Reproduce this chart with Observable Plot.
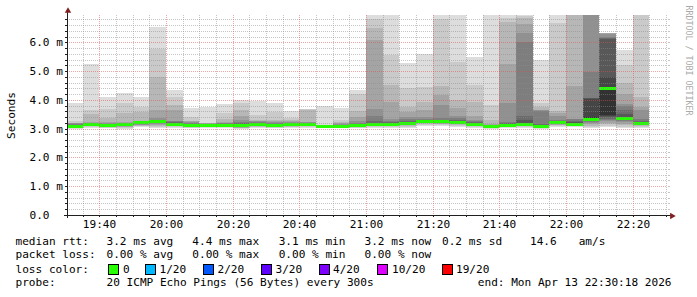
<!DOCTYPE html>
<html><head><meta charset="utf-8">
<script src="https://cdn.jsdelivr.net/npm/d3@7"></script>
<script src="https://cdn.jsdelivr.net/npm/@observablehq/plot@0.6"></script>
<style>
body{margin:0;background:#fff;}
#chart{position:relative;width:697px;height:297px;overflow:hidden;background:#fff;}
#chart svg{position:absolute;left:0;}
</style></head><body><div id="chart"></div>
<script>
// ---------- data ----------
const day = "2026-04-13";
const windowStart = "19:30:18";
const windowEnd = "22:30:18";
const slotStarts = ["19:30","19:35","19:40","19:45","19:50","19:55","20:00","20:05","20:10","20:15",
  "20:20","20:25","20:30","20:35","20:40","20:45","20:50","20:55","21:00","21:05",
  "21:10","21:15","21:20","21:25","21:30","21:35","21:40","21:45","21:50","21:55",
  "22:00","22:05","22:10","22:15","22:20"];
// 20 sorted ping round-trip times per 5-minute slot (ms)
const pings = [
  [3.00,3.03,3.05,3.06,3.07,3.08,3.08,3.09,3.09,3.09,3.10,3.11,3.12,3.14,3.16,3.18,3.20,3.21,3.27,3.90],
  [3.03,3.06,3.08,3.10,3.11,3.12,3.13,3.14,3.14,3.15,3.15,3.16,3.17,3.18,3.19,3.20,3.24,3.51,3.65,5.25],
  [3.02,3.04,3.06,3.07,3.08,3.09,3.09,3.10,3.10,3.10,3.11,3.12,3.13,3.15,3.17,3.19,3.22,3.36,3.68,4.10],
  [2.98,3.02,3.05,3.07,3.09,3.10,3.11,3.12,3.12,3.13,3.13,3.14,3.15,3.16,3.18,3.20,3.24,3.55,3.90,4.24],
  [3.05,3.08,3.10,3.12,3.14,3.16,3.17,3.18,3.19,3.20,3.20,3.21,3.22,3.23,3.25,3.26,3.28,3.59,3.74,4.10],
  [3.01,3.06,3.10,3.13,3.16,3.19,3.22,3.24,3.25,3.26,3.26,3.27,3.28,3.29,3.30,3.36,3.65,4.78,5.76,6.54],
  [3.03,3.06,3.09,3.11,3.12,3.13,3.14,3.15,3.16,3.16,3.17,3.18,3.20,3.22,3.25,3.28,3.65,3.81,4.09,4.34],
  [3.02,3.04,3.06,3.07,3.08,3.09,3.09,3.10,3.10,3.10,3.11,3.12,3.14,3.16,3.18,3.22,3.26,3.28,3.39,3.73],
  [3.03,3.05,3.06,3.07,3.08,3.09,3.09,3.10,3.10,3.10,3.11,3.12,3.13,3.14,3.16,3.17,3.18,3.20,3.21,3.76],
  [3.03,3.05,3.07,3.08,3.09,3.10,3.11,3.11,3.12,3.12,3.13,3.14,3.15,3.16,3.18,3.20,3.24,3.32,3.55,3.86],
  [3.00,3.01,3.02,3.04,3.06,3.08,3.09,3.10,3.10,3.11,3.12,3.14,3.17,3.20,3.24,3.30,3.44,3.65,3.88,4.00],
  [3.03,3.05,3.07,3.09,3.10,3.11,3.12,3.12,3.13,3.13,3.14,3.15,3.17,3.19,3.22,3.25,3.28,3.30,3.47,3.97],
  [3.02,3.04,3.06,3.07,3.08,3.09,3.09,3.10,3.10,3.10,3.11,3.12,3.13,3.15,3.18,3.22,3.27,3.30,3.59,3.90],
  [3.03,3.05,3.07,3.08,3.10,3.11,3.12,3.12,3.13,3.13,3.14,3.15,3.16,3.18,3.20,3.23,3.26,3.30,3.36,3.63],
  [3.04,3.07,3.09,3.11,3.12,3.13,3.14,3.14,3.15,3.15,3.16,3.17,3.18,3.19,3.20,3.22,3.24,3.66,3.67,3.68],
  [3.02,3.04,3.05,3.06,3.06,3.07,3.07,3.07,3.07,3.07,3.08,3.09,3.09,3.10,3.10,3.11,3.12,3.12,3.13,3.79],
  [3.02,3.04,3.05,3.06,3.07,3.07,3.08,3.08,3.08,3.08,3.09,3.10,3.11,3.12,3.14,3.16,3.18,3.22,3.30,3.73],
  [3.01,3.03,3.05,3.07,3.08,3.09,3.09,3.10,3.10,3.10,3.11,3.12,3.14,3.17,3.20,3.28,3.39,3.62,4.20,4.34],
  [3.03,3.06,3.08,3.10,3.11,3.12,3.13,3.14,3.15,3.15,3.16,3.18,3.20,3.27,3.45,3.68,6.08,6.50,6.80,7.50],
  [3.04,3.07,3.09,3.11,3.12,3.13,3.14,3.15,3.16,3.16,3.17,3.19,3.21,3.24,3.28,3.33,3.94,4.52,5.56,7.50],
  [3.04,3.07,3.10,3.12,3.13,3.14,3.15,3.16,3.17,3.17,3.18,3.20,3.23,3.27,3.33,3.39,3.59,3.76,4.40,5.28],
  [3.08,3.12,3.15,3.18,3.20,3.22,3.23,3.24,3.25,3.26,3.26,3.27,3.29,3.31,3.33,3.40,3.64,3.94,4.45,5.59],
  [3.08,3.12,3.15,3.17,3.19,3.21,3.22,3.23,3.24,3.25,3.25,3.26,3.28,3.31,3.38,3.82,4.17,4.47,6.80,7.50],
  [3.06,3.10,3.13,3.15,3.17,3.18,3.19,3.20,3.21,3.22,3.22,3.24,3.27,3.31,3.36,3.44,3.71,4.00,5.33,7.50],
  [3.04,3.07,3.09,3.11,3.12,3.13,3.14,3.15,3.16,3.16,3.17,3.18,3.20,3.23,3.26,3.30,3.44,3.94,4.52,5.50],
  [2.99,3.01,3.02,3.03,3.04,3.05,3.05,3.06,3.06,3.06,3.07,3.08,3.09,3.10,3.12,3.13,3.15,3.30,3.82,7.50],
  [3.02,3.05,3.07,3.08,3.09,3.09,3.10,3.10,3.10,3.10,3.11,3.13,3.16,3.20,3.24,3.89,5.26,6.70,6.83,7.50],
  [3.03,3.06,3.08,3.10,3.11,3.12,3.13,3.13,3.14,3.14,3.16,3.20,3.30,3.44,6.00,6.31,6.63,6.85,6.90,7.50],
  [3.00,3.02,3.03,3.04,3.05,3.06,3.06,3.07,3.07,3.07,3.08,3.10,3.13,3.17,3.63,3.64,3.65,3.76,3.88,5.39],
  [3.06,3.09,3.12,3.14,3.16,3.17,3.18,3.19,3.19,3.20,3.21,3.22,3.24,3.27,3.30,3.45,3.55,3.61,6.66,7.50],
  [3.05,3.08,3.10,3.12,3.13,3.14,3.15,3.15,3.16,3.16,3.17,3.19,3.22,3.27,3.33,3.34,4.47,7.20,7.40,7.50],
  [3.01,3.05,3.10,3.15,3.20,3.24,3.27,3.29,3.30,3.31,3.40,4.04,4.05,4.06,4.98,7.20,7.30,7.40,7.45,7.50],
  [3.05,3.10,3.15,3.20,3.25,3.30,3.35,3.40,3.45,3.47,4.44,4.78,6.10,6.15,6.20,6.30,6.31,6.31,6.32,6.32],
  [3.03,3.07,3.12,3.17,3.22,3.27,3.30,3.33,3.35,3.36,3.37,3.40,3.50,3.65,3.80,3.86,4.20,4.60,5.21,5.73],
  [3.04,3.07,3.09,3.11,3.12,3.13,3.14,3.15,3.16,3.17,3.18,3.20,3.23,3.28,3.33,3.65,3.76,4.11,7.40,7.50]
];
const medians = [3.09,3.15,3.10,3.13,3.20,3.26,3.16,3.10,3.10,3.12,
  3.11,3.13,3.10,3.13,3.15,3.07,3.08,3.10,3.15,3.16,
  3.17,3.26,3.25,3.22,3.16,3.06,3.10,3.14,3.07,3.20,
  3.16,3.33,4.40,3.36,3.17];
const yMax = 6.949;
const yLabelTicks = [0,1,2,3,4,5,6];
const xLabelTimes = ["19:40","20:00","20:20","20:40","21:00","21:20","21:40","22:00","22:20"];
const yTitle = "Seconds";
const watermark = "RRDTOOL / TOBI OETIKER";
const rowTitles = ["median rtt:","packet loss:","loss color:","probe:"];
const rttStats = ["3.2 ms avg","4.4 ms max","3.1 ms min","3.2 ms now","0.2 ms sd","14.6","am/s"];
const lossStats = ["0.00 % avg","0.00 % max","0.00 % min","0.00 % now"];
const lossLabels = ["0","1/20","2/20","3/20","4/20","10/20","19/20"];
const lossColors = ["#26ff00","#00b8ff","#0059ff","#5e00ff","#7e00ff","#dd00ff","#ff0000"];
const probeText = "20 ICMP Echo Pings (56 Bytes) every 300s";
const endText = "end: Mon Apr 13 22:30:18 2026";

// ---------- layout / style ----------
const FONT = "DejaVu Sans Mono";
const gridMinor = "rgba(140,140,140,0.5)";
const gridMajor = "rgba(222,79,79,0.5)";
const axisCol = "#1f1f1f";
const arrowCol = "#801f1f";
const T = s => new Date(`${day}T${s.length === 5 ? s + ":00" : s}Z`);
const STEP = 300000;
const shade = i => { const c = Math.floor(190 / 10 * (10 - (i + 1))) + 50; return d3.rgb(c, c, c).formatHex(); };

const smoke = [];
slotStarts.forEach((s, j) => {
  const t0 = T(s), t1 = new Date(+t0 + STEP), p = pings[j];
  for (let i = 0; i < 10; i++) smoke.push({t0, t1, lo: p[i], hi: p[19 - i], fill: shade(i)});
});
const med = slotStarts.map((s, j) => ({t0: T(s), t1: new Date(+T(s) + STEP), m: medians[j]}));
const halfPx = 1.5 * yMax / 200;

const x0 = T(windowStart), x1 = T(windowEnd);
const xMajor = xLabelTimes.map(T);
const xAllTicks = [];
for (let t = +T("19:35"); t <= +x1; t += STEP) xAllTicks.push(new Date(t));
const xMinor = xAllTicks.filter(t => !xMajor.some(d => +d === +t));
const yAll = d3.range(1, 35).map(k => k / 5).filter(v => v < yMax);
const yMinor = yAll.filter(v => Math.abs(v - Math.round(v)) > 1e-6);
const yMajor = yLabelTicks.filter(v => v > 0);
const fmtY = d => d === 0 ? "0.0" : d.toFixed(1) + " m";

const plot = Plot.plot({
  width: 697, height: 232,
  marginLeft: 67, marginRight: 30, marginTop: 15, marginBottom: 17,
  x: {type: "utc", domain: [x0, x1], round: true},
  y: {domain: [0, yMax], round: true},
  color: {type: "identity"},
  style: {fontFamily: FONT, fontSize: "11.1px", background: "white", color: "black", overflow: "visible"},
  marks: [
    Plot.rect(smoke, {x1: "t0", x2: "t1", y1: "lo", y2: "hi", fill: "fill", clip: true, shapeRendering: "crispEdges"}),
    Plot.rect(med, {x1: "t0", x2: "t1", y1: d => d.m - halfPx, y2: d => d.m + halfPx, fill: lossColors[0], clip: true, shapeRendering: "crispEdges"}),
    Plot.ruleY(yMinor, {stroke: gridMinor, strokeDasharray: "1,1"}),
    Plot.ruleX(xMinor, {stroke: gridMinor, strokeDasharray: "1,1"}),
    Plot.ruleY(yMajor, {stroke: gridMajor, strokeDasharray: "1,1"}),
    Plot.ruleX(xMajor, {stroke: gridMajor, strokeDasharray: "1,1"}),
    Plot.axisY({ticks: yAll, tickSize: 2, tickFormat: () => "", stroke: axisCol, label: null}),
    Plot.axisY({anchor: "right", ticks: yAll, tickSize: 2, tickFormat: () => "", stroke: gridMinor, label: null}),
    Plot.axisY({ticks: yLabelTicks, tickSize: 0, tickPadding: 38, textAnchor: "start", tickFormat: fmtY, fill: "black", label: null}),
    Plot.axisX({ticks: xAllTicks, tickSize: 2, tickFormat: () => "", stroke: axisCol, label: null}),
    Plot.axisX({ticks: xMajor, tickSize: 0, tickPadding: 5, tickFormat: d3.utcFormat("%H:%M"), fill: "black", label: null}),
    Plot.ruleY([0], {stroke: axisCol, insetLeft: -3, insetRight: -4}),
    Plot.ruleX([x0], {stroke: axisCol, insetTop: -4, insetBottom: -3}),
    Plot.dot([0], {frameAnchor: "bottom-right", dx: 4.5, dy: 0.5, symbol: "triangle", r: 2.4, rotate: 90, fill: arrowCol, stroke: "none"}),
    Plot.dot([0], {frameAnchor: "top-left", dx: 0.5, dy: -4.5, symbol: "triangle", r: 2.4, fill: arrowCol, stroke: "none"}),
    Plot.text([yTitle], {frameAnchor: "left", dx: -56, rotate: -90, textAnchor: "middle", lineAnchor: "middle", fontSize: 11.1, fill: "black"}),
    Plot.text([watermark], {frameAnchor: "top-right", dx: 20.7, dy: 45, rotate: 90, textAnchor: "middle", lineAnchor: "middle", fontSize: 8.3, fill: "#aaaaaa"})
  ]
});
plot.style.top = "0px";
const root = document.getElementById("chart");
root.appendChild(plot);

// ---------- legend (below the plot) ----------
const legTop = 232;
const rowBase = [13, 26.3, 40.7, 54];
const titleX = 15.5;
const rttX = [106.5, 192.3, 278.7, 364.5, 442, 530, 578.7];
const lossX = [106.5, 192.3, 278.7, 364.5];
const boxX = [108.5, 145.5, 203.5, 261.5, 319.5, 377.5, 442.5];
const boxLabelX = [123, 159.5, 217.5, 275.5, 333, 392, 456];
const probeX = 106.5, endX = 477.8;

const leg = d3.create("svg").attr("width", 697).attr("height", 65)
  .style("top", legTop + "px").attr("font-family", FONT).attr("font-size", "11.1px").attr("fill", "black");
const txt = (x, y, s) => leg.append("text").attr("x", x).attr("y", y).attr("xml:space", "preserve").text(s);
rowTitles.forEach((s, i) => txt(titleX, rowBase[i], s));
rttStats.forEach((s, i) => txt(rttX[i], rowBase[0], s));
lossStats.forEach((s, i) => txt(lossX[i], rowBase[1], s));
lossLabels.forEach((s, i) => {
  leg.append("rect").attr("x", boxX[i]).attr("y", rowBase[2] - 8.2).attr("width", 10).attr("height", 10)
    .attr("fill", lossColors[i]).attr("stroke", "black").attr("stroke-width", 1);
  txt(boxLabelX[i], rowBase[2], s);
});
txt(probeX, rowBase[3], probeText);
txt(endX, rowBase[3], endText);
root.appendChild(leg.node());
</script></body></html>
